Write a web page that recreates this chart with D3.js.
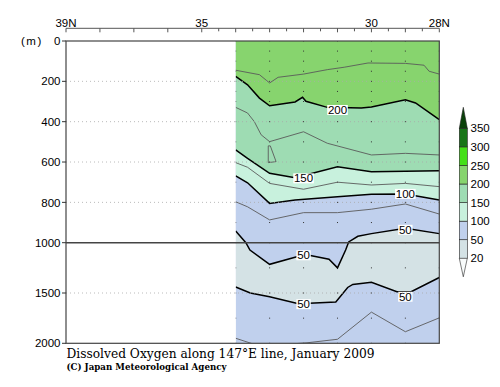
<!DOCTYPE html>
<html>
<head>
<meta charset="utf-8">
<script src="https://cdn.jsdelivr.net/npm/d3@7"></script>
<style>
  body { margin: 0; background: #fff; }
  svg text { font-family: "Liberation Sans", Arial, sans-serif; }
</style>
</head>
<body>
<div id="container"></div>
<script>
/* CONSTANTS AND GLOBALS */
const width = 500,
  height = 387,
  plot = { left: 66, right: 439.3, top: 41, bottom: 343.3, mid: 242.7 }

/* DATA */
// contour lines as [latitude, depth m]
const c225 = [[34,145],[33.3,167],[33,208],[32.75,180],[32,164],[31.3,142],[30.8,130],[30.1,109],[29,111],[28.45,120],[28.3,150],[28,164]]
const c200 = [[34,175],[33.65,217],[33.3,283],[33,321],[32.25,302],[32.03,279],[31.93,299],[31.3,329],[30.3,332],[30,327],[29,291],[28.7,307],[28,390]]
const c175 = [[34,329],[33.65,357],[33.45,400],[33.25,465],[33,499],[32,450],[31.3,507],[30,565],[29,557],[28,565]]
const c175loop = [[33.04,520],[32.98,520],[32.81,598],[33.04,603],[33.04,520]]
const c150 = [[34,540],[33.65,582],[33,656],[32.25,678],[31,623],[30,648],[28,643]]
const c125 = [[34,603],[33.65,626],[33,706],[32,735],[31,700],[30,714],[29,706],[28,722]]
const c100 = [[34,669],[33.65,703],[33,805],[32.25,788],[31,772],[30,760],[29,758],[28,788]]
const c75a = [[34,797],[33.65,822],[33,887],[32,851],[31,851],[30,834],[29,808],[28,858]]
const c50a = [[34,942],[33.7,1000],[33.58,1073],[33,1215],[32.2,1139],[31.8,1128],[31.25,1165],[31,1250],[30.76,1073],[30.67,996],[30.4,968],[30,955],[29,928],[28,955]]
const c50b = [[34,1440],[33.57,1500],[33,1537],[32.15,1607],[31.05,1590],[30.7,1445],[30.55,1415],[30,1394],[29.25,1487],[28.83,1487],[28,1346]]
const c75b = [[34,1950],[33.5,2005],[32.5,2010],[31.9,1995],[31,1960],[30,1690],[29,1885],[28,1747]]

const levels = ['20','50','100','150','200','250','300','350']
const bandColors = ['#d4e2e5','#c0d0ed','#c8f1dd','#9edcb3','#87d46e','#44df18','#177517']
const overColor = '#0b420b', underColor = '#f8fbfb'

const latTicks = [39,38,37,36,35,34,33,32,31,30,29,28]
const latHalfTicks = [34.5,33.5,32.5,31.5,30.5,29.5,28.5]
const latLabels = { 39: '39N', 35: '35', 30: '30', 28: '28N' }
const depthTicks = [0,200,400,600,800,1000,1500,2000]
const gridDepths = [200,400,600,800,1500]
const stations = [34,33,32,31,30,29,28]
const sampleDepths = [0,50,100,150,200,250,300,400,500,600,700,800,900,1000,1250,1500,1750,2000]

const labels = [
  { t: '200', lat: 31, d: 342 },
  { t: '150', lat: 32, d: 681 },
  { t: '100', lat: 29, d: 758 },
  { t: '50', lat: 29, d: 936 },
  { t: '50', lat: 32, d: 1125 },
  { t: '50', lat: 32, d: 1611 },
  { t: '50', lat: 29, d: 1537 }
]

/* SCALES */
const x = d3.scaleLinear().domain([39, 28]).range([plot.left, plot.right])
const y = d3.scaleLinear().domain([0, 1000, 2000]).range([plot.top, plot.mid, plot.bottom])

/* SVG */
const svg = d3.select('#container').append('svg')
  .attr('width', width).attr('height', height)

svg.append('clipPath').attr('id', 'clip')
  .append('rect')
  .attr('x', x(34)).attr('y', y(0))
  .attr('width', x(28) - x(34)).attr('height', y(2000) - y(0))

const g = svg.append('g').attr('clip-path', 'url(#clip)')

// bottom band first, then fill from surface down to each contour
g.append('rect')
  .attr('x', x(34)).attr('y', y(0))
  .attr('width', x(28) - x(34)).attr('height', y(2000) - y(0))
  .attr('fill', bandColors[1])

const area = d3.area().x(d => x(d[0])).y0(y(0) - 2).y1(d => y(d[1]))
const fills = [[c50b, bandColors[0]], [c50a, bandColors[1]], [c100, bandColors[2]], [c150, bandColors[3]], [c200, bandColors[4]]]
fills.forEach(([c, col]) => {
  g.append('path').attr('d', area(c)).attr('fill', col)
})

// sample points
stations.forEach(lat => {
  g.selectAll(null).data(sampleDepths).join('rect')
    .attr('x', x(lat) - 0.5).attr('y', d => y(d) - 0.5)
    .attr('width', 1).attr('height', 1)
    .attr('fill', '#333')
})

// grid
svg.selectAll('.grid').data(gridDepths).join('line')
  .attr('x1', plot.left).attr('x2', plot.right)
  .attr('y1', d => y(d)).attr('y2', d => y(d))
  .attr('stroke', '#aaa').attr('stroke-width', 0.8)
  .attr('stroke-dasharray', '1,3')

// contour lines
const line = d3.line().x(d => x(d[0])).y(d => y(d[1]))
const thin = [c225, c175, c175loop, c125, c75a, c75b]
const thick = [c200, c150, c100, c50a, c50b]
thin.forEach(c => g.append('path').attr('d', line(c))
  .attr('fill', 'none').attr('stroke', '#5a5a5a').attr('stroke-width', 0.9))
thick.forEach(c => g.append('path').attr('d', line(c))
  .attr('fill', 'none').attr('stroke', '#000').attr('stroke-width', 1.5))

// contour labels
labels.forEach(l => {
  const w = l.t.length * 6.2 + 2
  g.append('rect')
    .attr('x', x(l.lat) - w / 2).attr('y', y(l.d) - 5)
    .attr('width', w).attr('height', 10).attr('fill', '#fff')
  g.append('text')
    .attr('x', x(l.lat)).attr('y', y(l.d))
    .attr('dy', '0.36em').attr('text-anchor', 'middle')
    .attr('font-size', 11.5).text(l.t)
})

// 1000 m line
svg.append('line')
  .attr('x1', plot.left).attr('x2', plot.right)
  .attr('y1', y(1000)).attr('y2', y(1000))
  .attr('stroke', '#444').attr('stroke-width', 1.5)

// frame
svg.append('rect')
  .attr('x', plot.left).attr('y', plot.top)
  .attr('width', plot.right - plot.left).attr('height', plot.bottom - plot.top)
  .attr('fill', 'none').attr('stroke', '#444').attr('stroke-width', 1.2)

/* AXES */
// depth axis
svg.selectAll('.dtick').data(depthTicks).join('line')
  .attr('x1', plot.left - 4).attr('x2', plot.left)
  .attr('y1', d => y(d)).attr('y2', d => y(d))
  .attr('stroke', '#333')
svg.selectAll('.dlab').data(depthTicks).join('text')
  .attr('x', 60.5).attr('y', d => y(d)).attr('dy', '0.36em')
  .attr('text-anchor', 'end').attr('font-size', 11.5)
  .text(d => d)
svg.append('text').attr('x', 21).attr('y', y(0)).attr('dy', '0.36em')
  .attr('font-size', 11.5).attr('letter-spacing', 1.5).text('(m)')

// latitude axis above the plot
const latY = 28.3
svg.append('line').attr('x1', plot.left).attr('x2', plot.right)
  .attr('y1', latY).attr('y2', latY).attr('stroke', '#555')
svg.selectAll('.ltick').data(latTicks).join('line')
  .attr('x1', d => x(d)).attr('x2', d => x(d))
  .attr('y1', latY).attr('y2', latY + 4).attr('stroke', '#555')
svg.selectAll('.lhtick').data(latHalfTicks).join('line')
  .attr('x1', d => x(d)).attr('x2', d => x(d))
  .attr('y1', latY).attr('y2', latY + 3).attr('stroke', '#555')
svg.selectAll('.llab').data(Object.keys(latLabels)).join('text')
  .attr('x', d => x(+d)).attr('y', 26.5)
  .attr('text-anchor', 'middle').attr('font-size', 11.5)
  .text(d => latLabels[d])

/* COLOUR BAR */
const cb = d3.scalePoint().domain(levels).range([258.3, 128.3])
const cbX = 459.3, cbW = 8
const cbg = svg.append('g')
levels.slice(0, -1).forEach((lv, i) => {
  cbg.append('rect')
    .attr('x', cbX).attr('y', cb(levels[i + 1]))
    .attr('width', cbW).attr('height', cb(lv) - cb(levels[i + 1]))
    .attr('fill', bandColors[i]).attr('stroke', '#222').attr('stroke-width', 0.6)
})
cbg.append('path')
  .attr('d', `M${cbX},${cb('350')}L${cbX + cbW / 2},${cb('350') - 21}L${cbX + cbW},${cb('350')}Z`)
  .attr('fill', overColor).attr('stroke', '#222').attr('stroke-width', 0.6)
cbg.append('path')
  .attr('d', `M${cbX},${cb('20')}L${cbX + cbW / 2},${cb('20') + 18.5}L${cbX + cbW},${cb('20')}Z`)
  .attr('fill', underColor).attr('stroke', '#222').attr('stroke-width', 0.6)
cbg.selectAll('text').data(levels).join('text')
  .attr('x', 470.5).attr('y', d => cb(d)).attr('dy', '0.36em')
  .attr('font-size', 11.5).text(d => d)

/* TITLES */
svg.append('text').attr('x', 66.5).attr('y', 357.5)
  .attr('font-size', 12.5).attr('textLength', 308).attr('lengthAdjust', 'spacingAndGlyphs')
  .style('font-family', '"DejaVu Serif", "Liberation Serif", serif')
  .text('Dissolved Oxygen along 147°E line, January 2009')
svg.append('text').attr('x', 66.5).attr('y', 369.5)
  .attr('font-size', 9.5).attr('font-weight', 'bold')
  .attr('textLength', 160).attr('lengthAdjust', 'spacingAndGlyphs')
  .style('font-family', '"DejaVu Serif", "Liberation Serif", serif')
  .text('(C) Japan Meteorological Agency')
</script>
</body>
</html>
